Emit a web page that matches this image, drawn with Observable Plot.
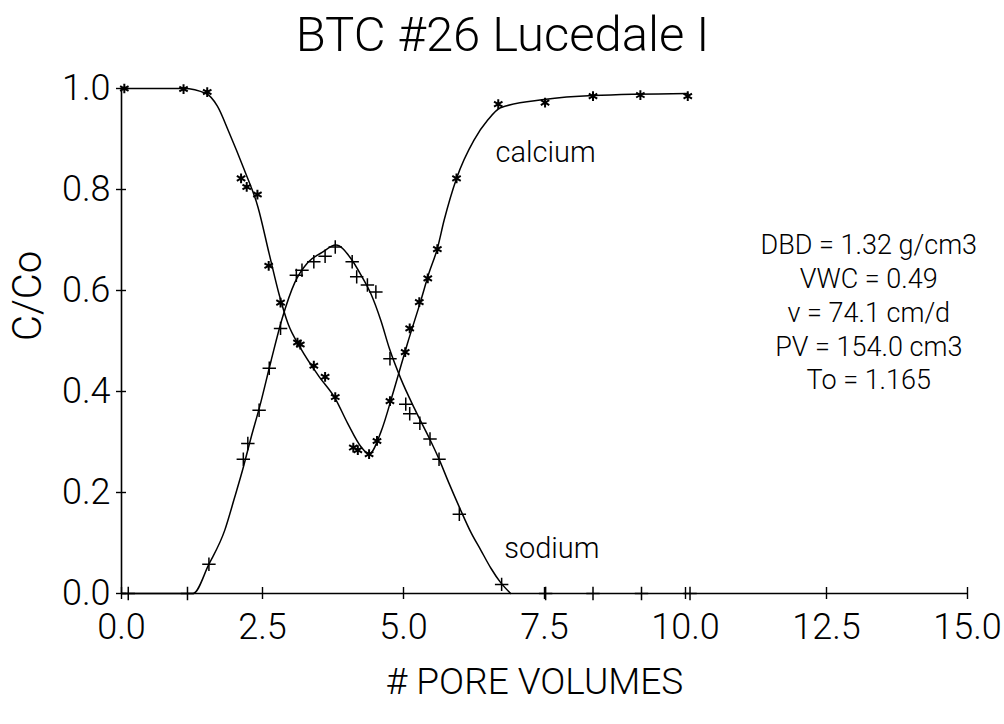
<!DOCTYPE html>
<html>
<head>
<meta charset="utf-8">
<script src="https://cdn.jsdelivr.net/npm/d3@7"></script>
<script src="https://cdn.jsdelivr.net/npm/@observablehq/plot@0.6"></script>
<style>
  html, body { margin: 0; padding: 0; background: #fff; }
  #chart svg { display: block; }
</style>
</head>
<body>
<div id="chart"></div>
<script>
// ---- data ----
const title = "BTC #26 Lucedale I";
const xLabel = "# PORE VOLUMES";
const yLabel = "C/Co";

const xTicks = [0, 2.5, 5, 7.5, 10, 12.5, 15];
const yTicks = [0, 0.2, 0.4, 0.6, 0.8, 1.0];

// calcium observations (asterisks)
const caX = [0.05, 1.10, 1.52, 2.12, 2.22, 2.41, 2.61, 2.82, 3.12, 3.17, 3.41, 3.61, 3.79, 4.11, 4.19, 4.39, 4.53, 4.76, 5.03, 5.11, 5.28, 5.43, 5.60, 5.94, 6.68, 7.51, 8.36, 9.20, 10.04];
const caY = [1.0, 0.999, 0.993, 0.822, 0.805, 0.790, 0.649, 0.576, 0.497, 0.493, 0.451, 0.429, 0.389, 0.289, 0.284, 0.276, 0.302, 0.381, 0.478, 0.525, 0.577, 0.624, 0.682, 0.822, 0.969, 0.972, 0.985, 0.987, 0.985];

// sodium observations (plus signs)
const naX = [0.12, 1.17, 1.55, 2.16, 2.24, 2.44, 2.62, 2.82, 3.10, 3.20, 3.41, 3.61, 3.79, 4.09, 4.17, 4.36, 4.51, 4.76, 5.04, 5.11, 5.29, 5.47, 5.63, 5.99, 6.74, 7.52, 8.36, 9.22, 10.08];
const naY = [0, 0, 0.058, 0.266, 0.297, 0.363, 0.446, 0.525, 0.630, 0.640, 0.657, 0.668, 0.686, 0.657, 0.627, 0.611, 0.597, 0.465, 0.375, 0.356, 0.337, 0.306, 0.266, 0.157, 0.018, 0, 0, 0, 0];

// fitted curves
const caFitX = [0, 1.1, 1.5, 1.7, 1.9, 2.18, 2.42, 2.62, 2.8, 2.95, 3.18, 3.5, 3.79, 4.01, 4.25, 4.39, 4.6, 4.83, 5.07, 5.31, 5.45, 5.6, 5.72, 5.94, 6.25, 6.49, 6.72, 7.49, 8.36, 10.04];
const caFitY = [1.0, 1.0, 0.99, 0.965, 0.915, 0.838, 0.765, 0.672, 0.59, 0.535, 0.485, 0.43, 0.386, 0.337, 0.29, 0.276, 0.32, 0.403, 0.495, 0.581, 0.634, 0.683, 0.739, 0.822, 0.898, 0.937, 0.962, 0.978, 0.986, 0.99];

const naFitX = [0, 1.27, 1.55, 1.83, 2.0, 2.16, 2.3, 2.45, 2.65, 2.85, 3.07, 3.3, 3.55, 3.8, 4.07, 4.25, 4.42, 4.6, 4.75, 4.95, 5.2, 5.49, 5.63, 5.8, 5.99, 6.2, 6.37, 6.55, 6.72, 6.9];
const naFitY = [0, 0, 0.058, 0.125, 0.188, 0.25, 0.31, 0.37, 0.46, 0.545, 0.615, 0.655, 0.675, 0.69, 0.663, 0.63, 0.594, 0.54, 0.485, 0.426, 0.365, 0.30, 0.266, 0.22, 0.171, 0.12, 0.086, 0.05, 0.022, 0];

const seriesLabels = ["calcium", "sodium"];
const seriesLabelX = [7.52, 7.63];
const seriesLabelY = [0.854, 0.070];

const paramLines = ["DBD = 1.32 g/cm3", "VWC = 0.49", "v = 74.1 cm/d", "PV = 154.0 cm3", "To = 1.165"];
const paramX = 13.25;
const paramY = 0.719;

// ---- build tables ----
const ca = caX.map((x, i) => ({x, y: caY[i]}));
const na = naX.map((x, i) => ({x, y: naY[i]}));
const caFit = caFitX.map((x, i) => ({x, y: caFitY[i]}));
const naFit = naFitX.map((x, i) => ({x, y: naFitY[i]}));
const labels = seriesLabels.map((t, i) => ({t, x: seriesLabelX[i], y: seriesLabelY[i]}));

const FONT = "Roboto, 'Liberation Sans', sans-serif";

const chart = Plot.plot({
  width: 1004,
  height: 724,
  marginLeft: 121,
  marginRight: 37,
  marginTop: 88,
  marginBottom: 131,
  style: {fontFamily: FONT, fontWeight: 300, background: "#fff", color: "#000"},
  x: {domain: [0, 15]},
  y: {domain: [0, 1]},
  marks: [
    Plot.axisX({ticks: xTicks, tickSize: 0, tickPadding: 20, tickFormat: d3.format(".1f"), fontSize: 36, label: null}),
    Plot.axisY({ticks: yTicks, tickSize: 0, tickPadding: 11, tickFormat: d3.format(".1f"), fontSize: 36, label: null}),
    Plot.ruleY([0], {stroke: "#000", strokeWidth: 1.6}),
    Plot.ruleX([0], {stroke: "#000", strokeWidth: 1.6}),
    Plot.ruleX(xTicks, {x: d => d, y1: 0, y2: 0, insetTop: -6, insetBottom: -6, stroke: "#000", strokeWidth: 1.4}),
    Plot.ruleY(yTicks, {y: d => d, x1: 0, x2: 0, insetLeft: -5, insetRight: -5, stroke: "#000", strokeWidth: 1.4}),
    Plot.line(caFit, {x: "x", y: "y", curve: "monotone-x", stroke: "#000", strokeWidth: 1.5}),
    Plot.line(naFit, {x: "x", y: "y", curve: "monotone-x", stroke: "#000", strokeWidth: 1.5}),
    Plot.dot(ca, {x: "x", y: "y", symbol: "asterisk", r: 4.6, stroke: "#000", strokeWidth: 2}),
    Plot.dot(na, {x: "x", y: "y", symbol: "plus", r: 4.4, stroke: "#000", strokeWidth: 1.5}),
    Plot.text(labels, {x: "x", y: "y", text: "t", lineAnchor: "bottom", textAnchor: "middle", fontSize: 29, fill: "#000"}),
    Plot.text([paramLines.join("\n")], {x: paramX, y: paramY, lineAnchor: "top", textAnchor: "middle", lineHeight: 1.25, fontSize: 27, fill: "#000"}),
    Plot.text([title], {frameAnchor: "top", dx: -42, dy: -38, lineAnchor: "bottom", fontSize: 49, fill: "#000"}),
    Plot.text([xLabel], {frameAnchor: "bottom", dx: -10, dy: 100, lineAnchor: "bottom", fontSize: 37, fill: "#000"}),
    Plot.text([yLabel], {frameAnchor: "left", dx: -93, rotate: -90, fontSize: 40, fill: "#000"})
  ]
});
document.getElementById("chart").appendChild(chart);
</script>
</body>
</html>
